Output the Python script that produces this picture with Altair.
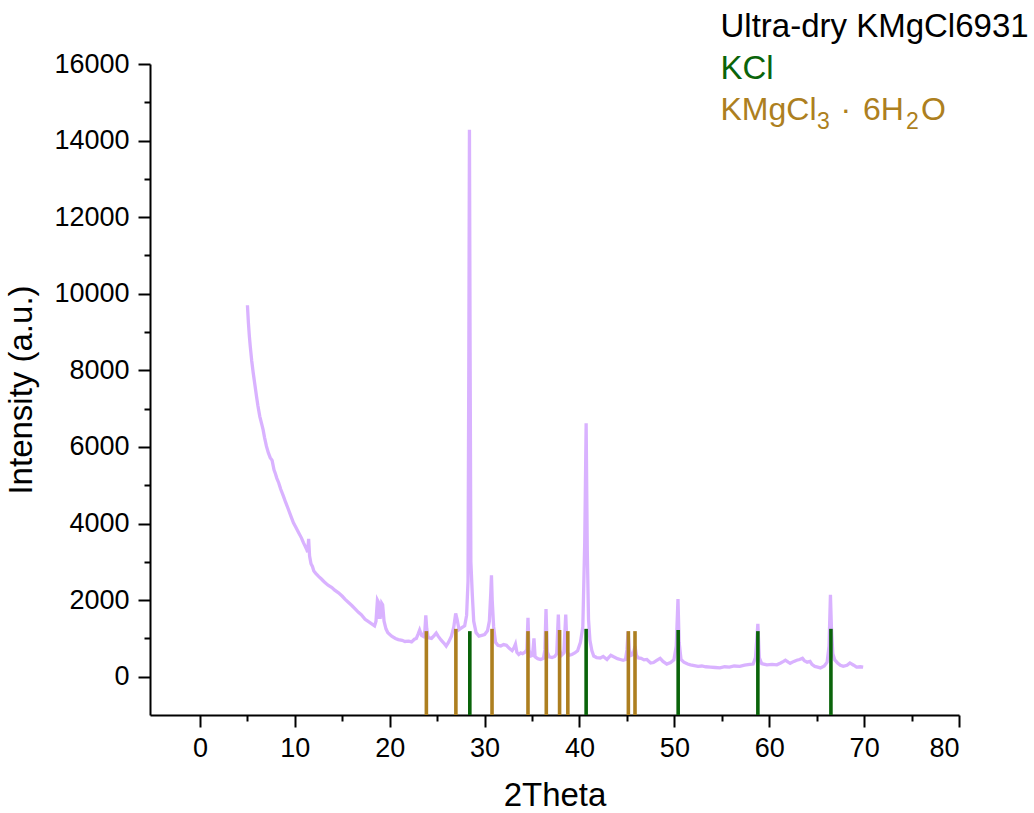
import altair as alt
import pandas as pd

# ---- XRD pattern (2Theta, intensity) ----
two_theta = [
    5.0, 5.1, 5.2, 5.3, 5.45, 5.6, 5.8, 5.95, 6.1, 6.3, 6.5, 6.65, 6.8, 7.0, 7.2, 7.4, 7.6, 7.8, 7.95,
    8.1, 8.3, 8.5, 8.8, 9.0, 9.3, 9.6, 9.85, 10.1, 10.4, 10.7, 10.9, 11.1, 11.25, 11.35, 11.45, 11.55,
    11.7, 11.85, 12.0, 12.2, 12.5, 12.8, 13.0, 13.2, 13.5, 13.9, 14.2, 14.6, 15.0, 15.3, 15.6, 16.0,
    16.4, 16.7, 17.0, 17.4, 17.8, 18.1, 18.4, 18.55, 18.7, 18.8, 18.9, 19.0, 19.15, 19.25, 19.4,
    19.6, 19.8, 20.2, 20.6, 20.9, 21.3, 21.6, 22.0, 22.3, 22.6, 22.8, 23.0, 23.15, 23.35, 23.55, 23.7,
    23.8, 23.9, 24.05, 24.4, 24.7, 24.9, 25.1, 25.4, 25.7, 25.95, 26.2, 26.5, 26.75, 26.95, 27.1, 27.3,
    27.6, 27.9, 28.1, 28.25, 28.33, 28.4, 28.47, 28.55, 28.7, 28.85, 29.1, 29.4, 29.7, 30.0, 30.3,
    30.5, 30.65, 30.72, 30.8, 30.95, 31.15, 31.4, 31.7, 32.0, 32.3, 32.6, 32.9, 33.1, 33.25, 33.4,
    33.6, 33.8, 34.0, 34.25, 34.45, 34.57, 34.68, 34.85, 35.05, 35.2, 35.32, 35.6, 35.9, 36.2, 36.35,
    36.47, 36.6, 36.8, 37.1, 37.4, 37.6, 37.77, 37.9, 38.1, 38.35, 38.55, 38.7, 38.9, 39.2, 39.5,
    39.8, 40.1, 40.35, 40.55, 40.7, 40.82, 40.95, 41.1, 41.3, 41.5, 41.8, 42.2, 42.5, 42.9, 43.3,
    43.6, 44.0, 44.3, 44.6, 44.85, 45.0, 45.12, 45.25, 45.45, 45.65, 45.85, 46.0, 46.2, 46.5, 46.8,
    47.1, 47.5, 47.8, 48.1, 48.5, 48.8, 49.2, 49.6, 49.95, 50.2, 50.38, 50.5, 50.7, 51.0, 51.4, 51.7,
    52.1, 52.5, 52.9, 53.3, 53.8, 54.3, 54.8, 55.3, 55.8, 56.3, 56.9, 57.4, 57.95, 58.3, 58.55, 58.8,
    58.95, 59.2, 59.75, 60.3, 60.8, 61.2, 61.5, 61.7, 62.0, 62.2, 62.6, 62.9, 63.2, 63.5, 63.7, 64.0,
    64.3, 64.5, 64.8, 65.1, 65.4, 65.8, 66.1, 66.3, 66.45, 66.55, 66.7, 66.9, 67.2, 67.5, 67.8, 68.2,
    68.5, 68.9, 69.2, 69.6, 69.9,
]
intensity = [
    9700, 9250, 8900, 8620, 8250, 7950, 7600, 7330, 7080, 6800, 6600, 6450, 6250, 6020, 5850, 5720, 5650, 5400, 5300,
    5180, 5060, 4900, 4710, 4570, 4380, 4180, 4020, 3900, 3760, 3620, 3500, 3400, 3320, 3250, 3600, 3150,
    2950, 2880, 2760, 2700, 2620, 2550, 2500, 2450, 2390, 2330, 2260, 2190, 2100, 2020, 1950, 1860,
    1760, 1680, 1620, 1500, 1430, 1380, 1330, 1450, 2000, 1950, 1550, 1550, 1920, 1880, 1450,
    1250, 1150, 1060, 1000, 970, 950, 920, 930, 910, 980, 1000, 1120, 1220, 1080, 1050, 1200,
    1600, 1250, 1020, 1000, 1080, 1140, 1060, 960, 880, 800, 900, 1060, 1300, 1650, 1500, 1230,
    1280, 1330, 1600, 2500, 8000, 14280, 8500, 3000, 2150, 1450, 1150, 1060, 1080, 1100, 1200,
    1450, 2200, 2650, 2000, 1300, 900, 820, 800, 840, 820, 740, 680, 760, 850, 640,
    580, 620, 600, 640, 700, 1540, 700, 540, 560, 1000, 520, 470, 450, 480, 700,
    1770, 650, 520, 500, 530, 600, 1620, 700, 560, 620, 1620, 650, 560, 580, 620,
    680, 900, 1300, 3500, 6620, 3300, 1500, 950, 680, 540, 500, 490, 530, 450, 560,
    520, 470, 450, 430, 450, 700, 1180, 700, 560, 580, 800, 560, 490, 480, 440,
    450, 360, 370, 420, 480, 400, 330, 370, 440, 800, 2030, 900, 450, 380, 330, 310,
    290, 270, 280, 260, 250, 240, 230, 260, 250, 280, 270, 300, 320, 330, 500, 1380,
    500, 340, 310, 320, 310, 360, 400, 430, 380, 350, 400, 430, 450, 480, 420, 380,
    400, 320, 270, 250, 230, 280, 380, 800, 2140, 1300, 600, 440, 360, 300, 270, 300,
    360, 300, 250, 260, 250,
]

# ---- reference peak positions (drop lines) ----
kmgcl_pos = [23.86, 26.97, 30.78, 34.57, 36.5, 37.9, 38.77, 45.15, 45.85]
kmgcl_top = [1190, 1250, 1250, 1190, 1190, 1220, 1190, 1190, 1190]
kcl_pos = [28.44, 40.7, 50.4, 58.8, 66.5]
kcl_top = [1190, 1250, 1220, 1190, 1250]

x_major = [0, 10, 20, 30, 40, 50, 60, 70, 80]
x_minor = [5, 15, 25, 35, 45, 55, 65, 75]
y_major = [0, 2000, 4000, 6000, 8000, 10000, 12000, 14000, 16000]
y_minor = [1000, 3000, 5000, 7000, 9000, 11000, 13000, 15000]

X_DOMAIN = [-5.27, 80]
Y_DOMAIN = [-1000, 16000]

PURPLE = "#D9B2FF"
GREEN = "#0A640A"
BROWN = "#AD7F20"
FONT = "Liberation Sans"

df = pd.DataFrame({"x": two_theta, "y": intensity})
df_b = pd.DataFrame({"x": kmgcl_pos, "top": kmgcl_top})
df_g = pd.DataFrame({"x": kcl_pos, "top": kcl_top})

xs = alt.Scale(domain=X_DOMAIN, nice=False, zero=False)
ys = alt.Scale(domain=Y_DOMAIN, nice=False, zero=False)

common_axis = dict(
    grid=False, domainColor="black", domainWidth=2, tickColor="black", tickWidth=2,
    labelFont=FONT, labelFontSize=27, labelColor="black",
    titleFont=FONT, titleFontSize=33, titleFontWeight="normal", titleColor="black",
    format="d",
)

line = alt.Chart(df).mark_line(color=PURPLE, strokeWidth=3.3).encode(
    x=alt.X("x:Q", scale=xs, axis=alt.Axis(values=x_major, tickSize=12, labelPadding=8,
                                            title="2Theta", titlePadding=18, **common_axis)),
    y=alt.Y("y:Q", scale=ys, axis=alt.Axis(values=y_major, tickSize=12, labelPadding=9,
                                            title="Intensity (a.u.)", titlePadding=15, **common_axis)),
)

minor = alt.Chart(df).mark_point(opacity=0).encode(
    x=alt.X("x:Q", scale=xs, axis=alt.Axis(values=x_minor, tickSize=6, tickWidth=2, tickColor="black",
                                            labels=False, domain=False, grid=False, title="",
                                            orient="bottom")),
    y=alt.Y("y:Q", scale=ys, axis=alt.Axis(values=y_minor, tickSize=6, tickWidth=2, tickColor="black",
                                            labels=False, domain=False, grid=False, title="",
                                            orient="left")),
)

bars_b = alt.Chart(df_b).mark_rule(color=BROWN, strokeWidth=3.6).encode(
    x=alt.X("x:Q", scale=xs, axis=None),
    y=alt.Y("top:Q", scale=ys, axis=None),
    y2=alt.datum(-1000),
)
bars_g = alt.Chart(df_g).mark_rule(color=GREEN, strokeWidth=3.6).encode(
    x=alt.X("x:Q", scale=xs, axis=None),
    y=alt.Y("top:Q", scale=ys, axis=None),
    y2=alt.datum(-1000),
)

blank = alt.Data(values=[{}])


def label(text, x, y, color, size=32):
    return alt.Chart(blank).mark_text(
        align="left", baseline="alphabetic", font=FONT, fontSize=size, color=color
    ).encode(x=alt.value(x), y=alt.value(y), text=alt.value(text))


legend = [
    label("Ultra-dry KMgCl6931", 570.5, -27.5, "black", 33),
    label("KCl", 570.5, 15, GREEN, 33),
    label("KMgCl", 570.5, 56, BROWN),
    label("3", 667, 65, BROWN, 23),
    label("·", 690.5, 56, BROWN),
    label("6H", 713, 56, BROWN),
    label("2", 756, 65, BROWN, 23),
    label("O", 771, 56, BROWN),
]

chart = alt.layer(line, minor, bars_b, bars_g, *legend).resolve_axis(
    x="independent", y="independent"
).properties(
    width=809, height=651,
    padding={"left": 150, "top": 64, "right": 75, "bottom": 98},
    autosize=alt.AutoSizeParams(type="none"),
).configure_view(stroke=None)

chart.save("out.html", embed_options={"renderer": "svg", "actions": False})
